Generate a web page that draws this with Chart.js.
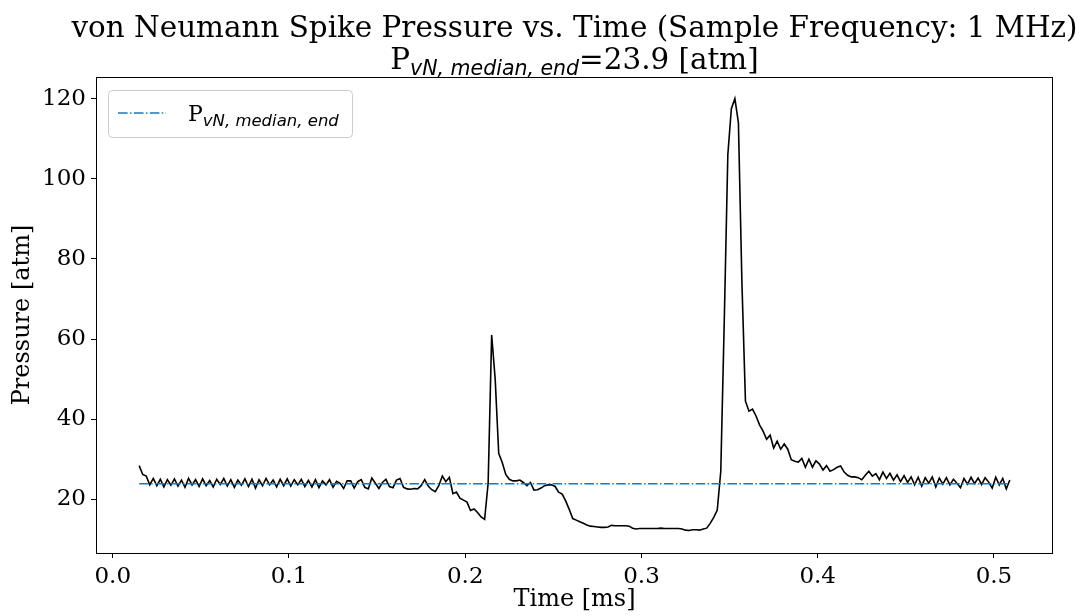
<!DOCTYPE html>
<html>
<head>
<meta charset="utf-8">
<script src="https://cdn.jsdelivr.net/npm/chart.js@4.4.1/dist/chart.umd.min.js"></script>
<style>
    html, body { margin: 0; padding: 0; background: #fff; }
    #wrap { width: 1083px; height: 616px; }
</style>
</head>
<body>
<div id="wrap"><canvas id="chart" width="1083" height="616"></canvas></div>
<script>
// --- data ---
// pressure trace [atm], every 2nd sample of the 1 MHz record, starting at 0.015 ms
const sampleStart = 0.015;   // ms
const sampleStep = 0.002;    // ms
const pressure = [
    28.4, 26.2, 25.8, 23.6, 25.2, 23.4, 25.0, 23.1, 24.9, 23.5,
    25.1, 23.3, 24.8, 23.0, 25.2, 23.6, 24.9, 23.2, 25.1, 23.4,
    24.7, 23.1, 25.0, 23.7, 25.2, 23.3, 24.9, 23.0, 24.8, 23.5,
    25.1, 23.2, 25.0, 22.8, 24.9, 23.4, 25.2, 23.6, 24.8, 23.1,
    25.0, 23.4, 25.1, 23.3, 24.9, 23.6, 25.0, 23.2, 24.7, 23.1,
    24.9, 22.9, 24.6, 23.6, 24.9, 23.0, 24.5, 24.0, 22.7, 24.6,
    24.6, 22.8, 24.4, 24.9, 23.0, 22.6, 25.3, 24.0, 22.7, 24.2,
    25.0, 23.2, 22.9, 24.8, 25.2, 23.0, 22.6, 22.5, 22.7, 22.6,
    23.4, 24.9, 23.3, 22.4, 21.9, 23.4, 25.8, 24.4, 25.5, 21.4,
    21.8, 20.3, 19.8, 19.3, 17.2, 17.6, 16.7, 15.6, 15.0, 24.0,
    61.0, 50.0, 31.5, 29.2, 26.2, 25.0, 24.6, 24.6, 24.8, 24.2,
    23.4, 24.2, 22.3, 22.4, 22.8, 23.4, 23.6, 23.6, 23.2, 21.8,
    21.3, 19.6, 17.5, 15.2, 14.8, 14.4, 14.0, 13.6, 13.3, 13.2,
    13.1, 13.0, 13.0, 13.1, 13.5, 13.4, 13.4, 13.4, 13.4, 13.3,
    12.8, 12.6, 12.7, 12.7, 12.7, 12.7, 12.7, 12.7, 12.8, 12.7,
    12.7, 12.7, 12.7, 12.7, 12.6, 12.3, 12.2, 12.4, 12.4, 12.3,
    12.6, 12.8, 14.0, 15.5, 17.3, 27.0, 65.0, 106.0, 117.5, 120.0,
    114.0, 74.0, 44.5, 42.0, 42.5, 40.8, 38.6, 37.0, 35.0, 36.0,
    32.8, 34.5, 32.5, 33.8, 32.5, 29.9, 29.5, 29.3, 30.2, 28.0,
    30.0, 28.0, 29.6, 28.8, 27.3, 28.4, 27.0, 27.4, 28.0, 28.3,
    26.8, 26.0, 25.6, 25.6, 25.4, 24.9, 26.0, 27.0, 25.8, 26.4,
    24.9, 26.8, 25.2, 26.5, 24.8, 26.1, 24.4, 25.9, 24.2, 25.6,
    23.6, 25.5, 23.3, 25.4, 24.0, 25.6, 23.1, 25.3, 23.8, 25.4,
    23.6, 25.0, 24.0, 22.9, 25.2, 23.8, 25.5, 23.9, 25.3, 23.7,
    25.4, 24.3, 22.8, 25.5, 23.6, 25.2, 22.6, 24.8
];
const medianEnd = 23.9;   // P_vN,median,end [atm]
const xTicks = [0.0, 0.1, 0.2, 0.3, 0.4, 0.5];
const yTicks = [20, 40, 60, 80, 100, 120];
const xLimits = [-0.0095, 0.5335];
const yLimits = [6.6, 125.4];

const time = pressure.map((p, i) => +(sampleStart + i * sampleStep).toFixed(3));

// --- look ---
const SERIF = '"DejaVu Serif", "Liberation Serif", serif';
const SANS = '"DejaVu Sans", sans-serif';
const BLUE = '#1f77b4';
const DASHDOT = [9.6, 2.4, 1.5, 2.4];

// "P" with an italic subscript, then the rest, left-aligned at x
function drawSubscripted(ctx, x, y, size, subSize, rest, measureOnly) {
    ctx.font = size + 'px ' + SERIF;
    const wP = ctx.measureText('P').width;
    ctx.font = 'italic ' + subSize + 'px ' + SANS;
    const wSub = ctx.measureText('vN, median, end').width;
    ctx.font = size + 'px ' + SERIF;
    const wRest = rest ? ctx.measureText(rest).width : 0;
    const total = wP + wSub + wRest;
    if (measureOnly) return total;
    ctx.textAlign = 'left';
    ctx.textBaseline = 'alphabetic';
    ctx.fillStyle = '#000';
    ctx.font = size + 'px ' + SERIF;
    ctx.fillText('P', x, y);
    ctx.font = 'italic ' + subSize + 'px ' + SANS;
    ctx.fillText('vN, median, end', x + wP, y + size * 0.22);
    if (rest) {
        ctx.font = size + 'px ' + SERIF;
        ctx.fillText(rest, x + wP + wSub, y);
    }
    return total;
}

const decorations = {
    id: 'decorations',
    afterDraw(chart) {
        const ctx = chart.ctx;
        const a = chart.chartArea;
        ctx.save();

        // axes frame
        ctx.strokeStyle = '#000';
        ctx.lineWidth = 1;
        ctx.strokeRect(Math.round(a.left) + 0.5, Math.round(a.top) + 0.5,
            Math.round(a.right - a.left) - 1, Math.round(a.bottom - a.top));

        // title
        const cx = (a.left + a.right) / 2;
        ctx.fillStyle = '#000';
        ctx.textAlign = 'center';
        ctx.textBaseline = 'alphabetic';
        ctx.font = '29.4px ' + SERIF;
        ctx.fillText('von Neumann Spike Pressure vs. Time (Sample Frequency: 1 MHz)', cx, 37);
        const rest = '=' + medianEnd.toFixed(1) + ' [atm]';
        const w = drawSubscripted(ctx, 0, 0, 29.4, 20.5, rest, true);
        drawSubscripted(ctx, cx - w / 2, 69, 29.4, 20.5, rest, false);

        // legend
        const lx = a.left + 12, ly = a.top + 13, lw = 244, lh = 47;
        ctx.beginPath();
        ctx.roundRect(lx + 0.5, ly + 0.5, lw, lh, 4);
        ctx.fillStyle = 'rgba(255,255,255,0.8)';
        ctx.fill();
        ctx.strokeStyle = '#cccccc';
        ctx.lineWidth = 1;
        ctx.stroke();
        ctx.beginPath();
        ctx.setLineDash(DASHDOT);
        ctx.strokeStyle = BLUE;
        ctx.lineWidth = 1.5;
        ctx.moveTo(lx + 10, ly + 23);
        ctx.lineTo(lx + 58, ly + 23);
        ctx.stroke();
        ctx.setLineDash([]);
        drawSubscripted(ctx, lx + 80, ly + 31, 22, 16.5, '', false);

        ctx.restore();
    }
};

function axisStyle(ticks, fmt) {
    return {
        type: 'linear',
        afterBuildTicks: s => { s.ticks = ticks.map(v => ({ value: v })); },
        ticks: {
            callback: fmt,
            font: { family: SERIF, size: 23 },
            color: '#000',
            padding: 5,
            maxRotation: 0,
            autoSkip: false
        },
        grid: { drawOnChartArea: false, drawTicks: true, tickLength: 5, color: '#000', tickWidth: 1 },
        border: { display: false }
    };
}

const xAxis = axisStyle(xTicks, v => v.toFixed(1));
xAxis.min = xLimits[0];
xAxis.max = xLimits[1];
xAxis.title = { display: true, text: 'Time [ms]', color: '#000',
    font: { family: SERIF, size: 24 }, padding: { top: 0, bottom: 2 } };
xAxis.afterFit = s => { s.height = 63; };

const yAxis = axisStyle(yTicks, v => String(v));
yAxis.min = yLimits[0];
yAxis.max = yLimits[1];
yAxis.title = { display: true, text: 'Pressure [atm]', color: '#000',
    font: { family: SERIF, size: 24 }, padding: { top: 8, bottom: 0 } };
yAxis.afterFit = s => { s.width = 96; };

new Chart(document.getElementById('chart'), {
    type: 'line',
    data: {
        datasets: [
            {
                label: 'P_vN,median,end',
                data: [{ x: time[0], y: medianEnd }, { x: time[time.length - 1], y: medianEnd }],
                borderColor: BLUE,
                borderWidth: 1.5,
                borderDash: DASHDOT,
                pointRadius: 0,
                order: 0
            },
            {
                label: 'Pressure',
                data: time.map((t, i) => ({ x: t, y: pressure[i] })),
                borderColor: '#000',
                borderWidth: 1.6,
                pointRadius: 0,
                tension: 0,
                order: 1
            }
        ]
    },
    options: {
        responsive: false,
        animation: false,
        devicePixelRatio: 1,
        layout: { padding: { top: 77, right: 30, left: 0, bottom: 0 } },
        plugins: { legend: { display: false }, tooltip: { enabled: false }, title: { display: false } },
        scales: { x: xAxis, y: yAxis }
    },
    plugins: [decorations]
});
</script>
</body>
</html>
